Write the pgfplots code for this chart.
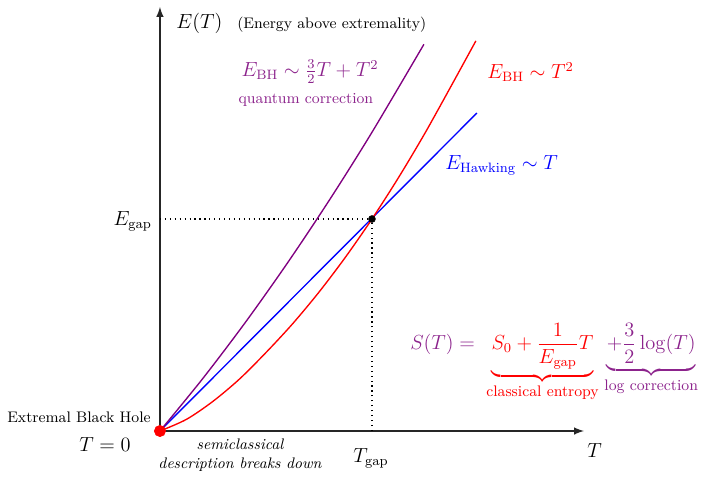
\documentclass[border=0pt]{standalone}
\usepackage{pgfplots}
\pgfplotsset{compat=1.18}
\usepackage{amsmath}
\definecolor{lpurple}{RGB}{128,0,128}
\definecolor{tpurple}{RGB}{140,35,140}
\begin{document}
\begin{tikzpicture}
\begin{axis}[
  x=62.35pt, y=62.35pt,
  xmin=0, xmax=4, ymin=0, ymax=4,
  axis lines=middle,
  axis line style={-latex, line width=1pt, black!85},
  xtick=\empty, ytick=\empty,
  clip=false,
]
% invisible frame for the overall proportions
\path (axis cs:-1.509,-0.387) rectangle (axis cs:5.104,4.066);
% dotted guides
\addplot[black, line width=0.7pt, dash pattern=on 0.7pt off 2.2pt] coordinates {(0,2) (2,2)};
\addplot[black, line width=0.7pt, dash pattern=on 0.7pt off 2.2pt] coordinates {(2,0) (2,2)};
% Hawking line
\addplot[blue, line width=0.8pt] coordinates {(0,0) (2.99,3.0)};
% Red BH curve
\addplot[red, line width=0.8pt, smooth] coordinates {
 (0,0) (0.25,0.11) (0.5,0.28) (0.75,0.49) (1.0,0.74) (1.25,1.01) (1.5,1.31)
 (1.75,1.64) (2.0,2.0) (2.25,2.39) (2.5,2.81) (2.75,3.26) (2.98,3.68)};
% Purple curve
\addplot[lpurple, line width=0.8pt, smooth] coordinates {
 (0,0) (0.4,0.49) (0.8,1.017) (1.2,1.581) (1.6,2.181) (2.0,2.818) (2.49,3.648)};
% points
\addplot[only marks, mark=*, mark size=2pt, black] coordinates {(2,2)};
\addplot[only marks, mark=*, mark size=3.3pt, red] coordinates {(0,0)};
% labels
\node[anchor=base west, font=\large, inner sep=0pt] at (axis cs:0.151,3.80) {$E(T)$};
\node[anchor=base west, font=\small, inner sep=0pt] at (axis cs:0.726,3.80) {(Energy above extremality)};
\node[font=\small] at (axis cs:-0.764,0.132) {Extremal Black Hole};
\node[font=\large] at (axis cs:-0.519,-0.132) {$T=0$};
\node[anchor=east, font=\large, inner sep=0pt] at (axis cs:-0.075,1.98) {$E_{\mathrm{gap}}$};
\node[font=\large] at (axis cs:1.99,-0.255) {$T_{\mathrm{gap}}$};
\node[font=\large] at (axis cs:4.10,-0.18) {$T$};
\node[font=\small\itshape, align=center] at (axis cs:0.755,-0.225) {semiclassical\\description breaks down};
\node[font=\large, text=tpurple] at (axis cs:1.415,3.387) {$E_{\mathrm{BH}} \sim \tfrac{3}{2}T + T^2$};
\node[font=\small, text=tpurple] at (axis cs:1.377,3.123) {quantum correction};
\node[anchor=west, font=\large, text=red, inner sep=0pt] at (axis cs:3.085,3.387) {$E_{\mathrm{BH}} \sim T^2$};
\node[anchor=west, font=\large, text=blue, inner sep=0pt] at (axis cs:2.689,2.509) {$E_{\mathrm{Hawking}} \sim T$};
\node[anchor=west, font=\large, inner sep=0pt] at (axis cs:2.358,0.65) {$\color{tpurple}S(T) = \;
 {\color{red}\underbrace{S_0 + \frac{1}{E_{\mathrm{gap}}}T}_{\text{\small classical entropy}}}\;
 {\color{tpurple}\underbrace{+\frac{3}{2}\log(T)}_{\text{\small log correction}}}$};
\end{axis}
\end{tikzpicture}
\end{document}
